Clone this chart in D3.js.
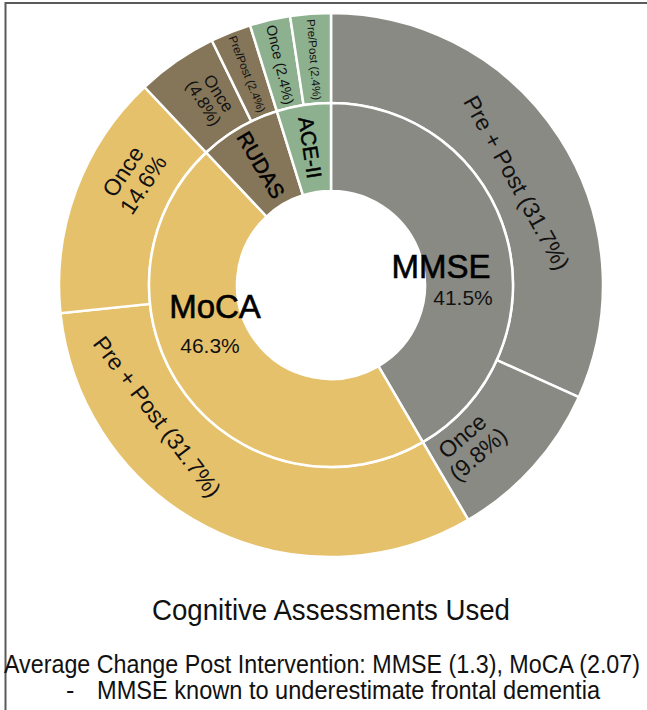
<!DOCTYPE html>
<html>
<head>
<meta charset="utf-8">
<script src="https://cdn.jsdelivr.net/npm/d3@7"></script>
<style>
  body { margin: 0; background: #fff; }
  svg { display: block; }
</style>
</head>
<body>
<div id="chart"></div>
<script>
// inner ring: assessment tools
var groups = ["MMSE", "MoCA", "RUDAS", "ACE-II"];
var groupValues = [41.5, 46.3, 7.2, 4.8];
var groupPct = ["41.5%", "46.3%", "", ""];

// outer ring: how often the tool was given
var subGroups = ["MMSE", "MMSE", "MoCA", "MoCA", "RUDAS", "RUDAS", "ACE-II", "ACE-II"];
var subValues = [31.7, 9.8, 31.7, 14.6, 4.8, 2.4, 2.4, 2.4];
var subLabels = [
  ["Pre + Post (31.7%)"], ["Once", "(9.8%)"],
  ["Pre + Post (31.7%)"], ["Once", "14.6%"],
  ["Once", "(4.8%)"], ["Pre/Post (2.4%)"],
  ["Once (2.4%)"], ["Pre/Post (2.4%)"]
];

var title = "Cognitive Assessments Used";
var notes = [
  "Average Change Post Intervention: MMSE (1.3), MoCA (2.07)",
  "MMSE known to underestimate frontal dementia"
];

var svgWidth = 647;
var svgHeight = 710;
var cx = 331, cy = 285;
var rHole = 94, rMid = 182, rOuter = 272;

var color = d3.scaleOrdinal()
  .domain(groups)
  .range(["#8a8a84", "#e6c16b", "#85765a", "#8db08f"]);

var svg = d3.select("#chart")
  .append("svg")
  .attr("width", svgWidth)
  .attr("height", svgHeight);

// frame round the figure
svg.append("rect")
  .attr("x", 5.5)
  .attr("y", 3)
  .attr("width", svgWidth + 20)
  .attr("height", svgHeight + 20)
  .attr("fill", "none")
  .attr("stroke", "#5a5a5a")
  .attr("stroke-width", 2);

var chartGroup = svg.append("g")
  .attr("transform", `translate(${cx}, ${cy})`);

var pie = d3.pie().sort(null).value(d => d);

var innerArcs = pie(groupValues);
var outerArcs = pie(subValues);

var innerArc = d3.arc().innerRadius(rHole).outerRadius(rMid);
var outerArc = d3.arc().innerRadius(rMid).outerRadius(rOuter);

chartGroup.selectAll("path.outer")
  .data(outerArcs)
  .enter()
  .append("path")
  .attr("class", "outer")
  .attr("d", outerArc)
  .attr("fill", (d, i) => color(subGroups[i]))
  .attr("stroke", "#fff")
  .attr("stroke-width", 2.5);

chartGroup.selectAll("path.inner")
  .data(innerArcs)
  .enter()
  .append("path")
  .attr("class", "inner")
  .attr("d", innerArc)
  .attr("fill", (d, i) => color(groups[i]))
  .attr("stroke", "#fff")
  .attr("stroke-width", 2.5);

var deg = 180 / Math.PI;
function mid(d) { return (d.startAngle + d.endAngle) / 2 * deg; }
function polar(a, r) {
  var t = a / deg;
  return [r * Math.sin(t), -r * Math.cos(t)];
}

// outer label placement: angle shift from arc middle, radius, rotation mode, font size
var outerLayout = [
  { shift: 4, r: 212, mode: "tan", size: 23 },
  { shift: 7, r: 212, mode: "tanFlip", size: 23 },
  { shift: 26, r: 218, mode: "tanFlip", size: 23 },
  { shift: 8, r: 225, mode: "tan", size: 23, rotAdj: 5 },
  { shift: 2, r: 222, mode: "radial", size: 17 },
  { shift: 0, r: 227, mode: "radial", size: 11.5 },
  { shift: 0, r: 226, mode: "radial", size: 14.5 },
  { shift: 0, r: 226, mode: "radial", size: 11.5 }
];

outerArcs.forEach(function(d, i) {
  var L = outerLayout[i];
  var a = mid(d) + L.shift;
  var p = polar(a, L.r);
  var rot;
  if (L.mode === "tan") rot = a > 180 ? a - 360 : a;
  else if (L.mode === "tanFlip") rot = a - 180;
  else rot = a + 90 - 360;
  if (L.rotAdj) rot += L.rotAdj;
  var lines = subLabels[i];
  var lh = L.size * 1.05;
  var t = chartGroup.append("text")
    .attr("transform", `translate(${p[0]}, ${p[1]}) rotate(${rot})`)
    .attr("text-anchor", "middle")
    .style("font-family", "'Liberation Sans', Arial, sans-serif")
    .style("font-size", L.size + "px")
    .attr("fill", "#111");
  lines.forEach(function(s, j) {
    t.append("tspan")
      .attr("x", 0)
      .attr("y", (j - (lines.length - 1) / 2) * lh + L.size * 0.35)
      .text(s);
  });
});

// inner labels
var innerLayout = [
  { dx: 110, dy: -7, pdx: 132, pdy: 20, size: 33 },
  { dx: -116, dy: 33, pdx: -121, pdy: 68, size: 33 }
];
innerLayout.forEach(function(L, i) {
  chartGroup.append("text")
    .attr("x", L.dx)
    .attr("y", L.dy)
    .attr("text-anchor", "middle")
    .style("font-family", "'Liberation Sans', Arial, sans-serif")
    .style("font-size", L.size + "px")
    .attr("fill", "#000")
    .attr("stroke", "#000")
    .attr("stroke-width", 0.6)
    .text(groups[i]);
  chartGroup.append("text")
    .attr("x", L.pdx)
    .attr("y", L.pdy)
    .attr("text-anchor", "middle")
    .style("font-family", "'Liberation Sans', Arial, sans-serif")
    .style("font-size", "21px")
    .attr("fill", "#111")
    .text(groupPct[i]);
});

// small tools get radial names
[2, 3].forEach(function(i) {
  var d = innerArcs[i];
  var a = mid(d);
  var p = polar(a, 139);
  chartGroup.append("text")
    .attr("transform", `translate(${p[0]}, ${p[1]}) rotate(${a + 90 - 360})`)
    .attr("text-anchor", "middle")
    .attr("dy", "0.35em")
    .style("font-family", "'Liberation Sans', Arial, sans-serif")
    .style("font-size", "21px")
    .attr("fill", "#000")
    .attr("stroke", "#000")
    .attr("stroke-width", 0.5)
    .text(groups[i]);
});

// caption block (squeezed to the reference widths)
var capFont = "'Liberation Sans', Arial, sans-serif";
svg.append("text")
  .attr("x", 152)
  .attr("y", 620)
  .attr("textLength", 358)
  .attr("lengthAdjust", "spacingAndGlyphs")
  .style("font-family", capFont)
  .style("font-size", "29px")
  .attr("fill", "#111")
  .text(title);

svg.append("text")
  .attr("x", 4)
  .attr("y", 673)
  .attr("textLength", 636)
  .attr("lengthAdjust", "spacingAndGlyphs")
  .style("font-family", capFont)
  .style("font-size", "25px")
  .attr("fill", "#111")
  .text(notes[0]);

svg.append("text")
  .attr("x", 66)
  .attr("y", 699)
  .style("font-family", capFont)
  .style("font-size", "25px")
  .attr("fill", "#111")
  .text("-");

svg.append("text")
  .attr("x", 97)
  .attr("y", 699)
  .attr("textLength", 503)
  .attr("lengthAdjust", "spacingAndGlyphs")
  .style("font-family", capFont)
  .style("font-size", "25px")
  .attr("fill", "#111")
  .text(notes[1]);
</script>
</body>
</html>
